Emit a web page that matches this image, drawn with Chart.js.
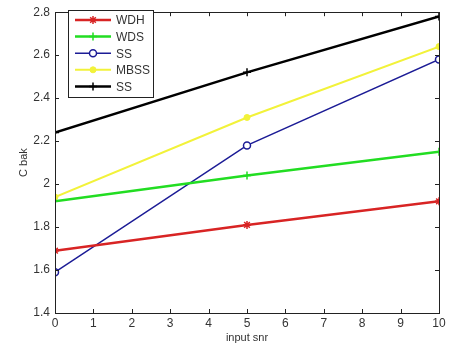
<!DOCTYPE html>
<html>
<head>
<meta charset="utf-8">
<script src="https://cdn.jsdelivr.net/npm/chart.js@4.4.0/dist/chart.umd.min.js"></script>
<style>
  html, body { margin: 0; padding: 0; background: #fff; }
  #wrap { width: 457px; height: 359px; }
</style>
</head>
<body>
<div id="wrap"><canvas id="chart" width="457" height="359"></canvas></div>
<script>
const snr = [0, 5, 10];
const wdh = [1.69, 1.81, 1.92];
const wds = [1.92, 2.04, 2.15];
const ssBlue = [1.59, 2.18, 2.58];
const mbss = [1.94, 2.31, 2.64];
const ssBlack = [2.24, 2.52, 2.78];
const seriesNames = ["WDH", "WDS", "SS", "MBSS", "SS"];
const xTicks = [0, 1, 2, 3, 4, 5, 6, 7, 8, 9, 10];
const yTicks = [1.4, 1.6, 1.8, 2, 2.2, 2.4, 2.6, 2.8];

const fontFam = "'Liberation Sans', Arial, sans-serif";
const pts = arr => arr.map((v, i) => ({ x: snr[i], y: v }));

// inside ticks on all four sides, plus box + legend, like matlab
const matlabFrame = {
  id: "matlabFrame",
  afterDraw(chart) {
    const ctx = chart.ctx;
    const a = chart.chartArea;
    const xs = chart.scales.x, ys = chart.scales.y;
    ctx.save();
    ctx.strokeStyle = "#222";
    ctx.lineWidth = 1;
    ctx.beginPath();
    xTicks.forEach(t => {
      const px = Math.round(xs.getPixelForValue(t)) + 0.5;
      ctx.moveTo(px, a.bottom); ctx.lineTo(px, a.bottom - 4);
      ctx.moveTo(px, a.top); ctx.lineTo(px, a.top + 4);
    });
    yTicks.forEach(t => {
      const py = Math.round(ys.getPixelForValue(t)) + 0.5;
      ctx.moveTo(a.left, py); ctx.lineTo(a.left + 4, py);
      ctx.moveTo(a.right, py); ctx.lineTo(a.right - 4, py);
    });
    ctx.stroke();
    ctx.strokeRect(Math.round(a.left) + 0.5, Math.round(a.top) + 0.5,
      Math.round(a.right - a.left), Math.round(a.bottom - a.top));

    // legend box
    const lx = 68, ly = 10, lw = 85, lh = 87;
    ctx.fillStyle = "#fff";
    ctx.fillRect(lx, ly, lw, lh);
    ctx.strokeStyle = "#222";
    ctx.strokeRect(lx + 0.5, ly + 0.5, lw, lh);
    ctx.font = "12px " + fontFam;
    ctx.textBaseline = "middle";
    chart.data.datasets.forEach((ds, i) => {
      const y = ly + 10 + i * 16.6;
      ctx.strokeStyle = ds.borderColor;
      ctx.lineWidth = ds.borderWidth;
      ctx.beginPath();
      ctx.moveTo(lx + 7, y); ctx.lineTo(lx + 43, y);
      ctx.stroke();
      ctx.fillStyle = ds.pointBackgroundColor;
      ctx.lineWidth = ds.pointBorderWidth || 1;
      if (ds.pointStyle === "circle") {
        ctx.beginPath();
        ctx.arc(lx + 25, y, ds.pointRadius, 0, Math.PI * 2);
        ctx.fill(); ctx.stroke();
      } else {
        Chart.helpers.drawPoint(ctx, {
          pointStyle: ds.pointStyle, radius: ds.pointRadius, rotation: 0,
          borderWidth: ds.pointBorderWidth || 1
        }, lx + 25, y);
      }
      ctx.fillStyle = "#333";
      ctx.fillText(seriesNames[i], lx + 48, y + 1);
    });
    ctx.restore();
  }
};

new Chart(document.getElementById("chart"), {
  type: "line",
  data: {
    datasets: [
      { label: seriesNames[0], data: pts(wdh), borderColor: "#d82424", backgroundColor: "#d82424",
        pointBackgroundColor: "#d82424", borderWidth: 2.5, pointStyle: "star", pointRadius: 4, pointBorderWidth: 1.5 },
      { label: seriesNames[1], data: pts(wds), borderColor: "#22dd22", backgroundColor: "#22dd22",
        pointBackgroundColor: "#22dd22", borderWidth: 2.5, pointStyle: "cross", pointRadius: 4, pointBorderWidth: 1.5 },
      { label: seriesNames[2], data: pts(ssBlue), borderColor: "#1c1c96", backgroundColor: "#fff",
        pointBackgroundColor: "#fff", borderWidth: 1.5, pointStyle: "circle", pointRadius: 3.5, pointBorderWidth: 1.5 },
      { label: seriesNames[3], data: pts(mbss), borderColor: "#f2f23a", backgroundColor: "#f2f23a",
        pointBackgroundColor: "#f2f23a", borderWidth: 2, pointStyle: "circle", pointRadius: 3, pointBorderWidth: 1 },
      { label: seriesNames[4], data: pts(ssBlack), borderColor: "#000", backgroundColor: "#000",
        pointBackgroundColor: "#000", borderWidth: 2.5, pointStyle: "cross", pointRadius: 4, pointBorderWidth: 1.5 }
    ]
  },
  options: {
    responsive: false,
    animation: false,
    layout: { padding: { left: 0, top: 10, right: 18, bottom: 0 } },
    plugins: { legend: { display: false }, tooltip: { enabled: false } },
    elements: { line: { tension: 0 } },
    scales: {
      x: {
        type: "linear", min: 0, max: 10,
        afterFit: s => { s.height = 46; },
        afterBuildTicks: s => { s.ticks = xTicks.map(v => ({ value: v })); },
        grid: { display: false, drawTicks: false, tickLength: 0 },
        border: { display: false },
        ticks: { padding: 3, color: "#333", font: { family: fontFam, size: 12 } },
        title: { display: true, text: "input snr", color: "#333", padding: { top: 0, bottom: 14 },
          font: { family: fontFam, size: 11 } }
      },
      y: {
        type: "linear", min: 1.4, max: 2.8,
        afterFit: s => { s.width = 55; },
        afterBuildTicks: s => { s.ticks = yTicks.map(v => ({ value: v })); },
        grid: { display: false, drawTicks: false, tickLength: 0 },
        border: { display: false },
        ticks: { padding: 5, color: "#333", callback: v => String(Math.round(v * 10) / 10),
          font: { family: fontFam, size: 12 } },
        title: { display: true, text: "C bak", color: "#333", padding: { top: 17, bottom: 0 },
          font: { family: fontFam, size: 11 } }
      }
    }
  },
  plugins: [matlabFrame]
});
</script>
</body>
</html>
